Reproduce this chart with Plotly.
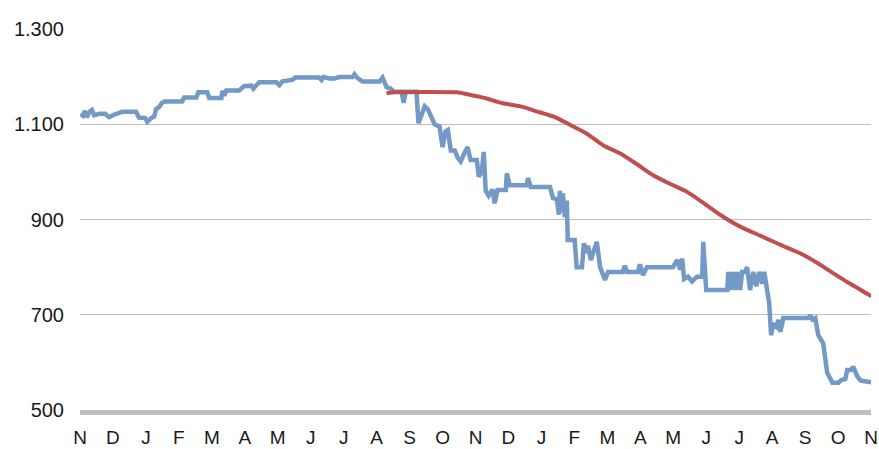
import plotly.graph_objects as go

# x positions in months since the first "N" tick (0..24)
month_labels = ["N", "D", "J", "F", "M", "A", "M", "J", "J", "A", "S", "O",
                "N", "D", "J", "F", "M", "A", "M", "J", "J", "A", "S", "O", "N"]

blue_x = [0.02, 0.09, 0.15, 0.21, 0.30, 0.36, 0.43, 0.58, 0.76, 0.88, 1.03, 1.28, 1.70, 1.79,
          1.98, 2.04, 2.16, 2.25, 2.31, 2.40, 2.49, 2.58, 3.10, 3.16, 3.53, 3.59, 3.86, 3.92,
          4.29, 4.32, 4.38, 4.44, 4.83, 4.98, 5.20, 5.26, 5.35, 5.44, 5.96, 6.05, 6.14, 6.44,
          6.53, 7.26, 7.33, 7.39, 7.57, 7.72, 7.87, 8.27, 8.33, 8.42, 8.57, 9.09, 9.18, 9.30,
          9.42, 9.54, 9.76, 9.82, 9.88, 10.21, 10.27, 10.36, 10.46, 10.55, 10.64, 10.76, 10.91,
          11.00, 11.09, 11.16, 11.25, 11.37, 11.46, 11.55, 11.67, 11.76, 11.85, 12.04, 12.10,
          12.19, 12.25, 12.31, 12.40, 12.52, 12.58, 12.67, 12.92, 12.95, 13.04, 13.56, 13.59,
          13.68, 14.26, 14.35, 14.47, 14.53, 14.56, 14.62, 14.65, 14.71, 14.77, 14.80, 15.01,
          15.07, 15.23, 15.29, 15.35, 15.41, 15.50, 15.59, 15.68, 15.78, 15.93, 16.02, 16.47,
          16.53, 16.60, 16.93, 16.99, 17.08, 17.20, 17.99, 18.12, 18.21, 18.27, 18.33, 18.45,
          18.57, 18.72, 18.88, 18.91, 19.00, 19.64, 19.67, 19.73, 19.79, 19.88, 19.94, 20.03,
          20.09, 20.18, 20.24, 20.33, 20.43, 20.52, 20.61, 20.70, 20.76, 20.85, 20.91, 20.97,
          21.03, 21.12, 21.19, 21.25, 21.34, 22.10, 22.16, 22.22, 22.31, 22.40, 22.49, 22.55,
          22.67, 22.77, 22.83, 23.01, 23.10, 23.22, 23.28, 23.40, 23.46, 23.59, 23.68, 23.86,
          24.01]
blue_y = [1122, 1118, 1128, 1115, 1127, 1130, 1119, 1122, 1122, 1115, 1120, 1126, 1126, 1114,
          1113, 1105, 1113, 1116, 1132, 1136, 1145, 1148, 1148, 1156, 1156, 1167, 1167, 1155,
          1155, 1170, 1160, 1171, 1171, 1180, 1181, 1175, 1182, 1188, 1188, 1182, 1190, 1193,
          1198, 1198, 1193, 1199, 1196, 1196, 1199, 1199, 1205, 1197, 1190, 1190, 1198, 1178,
          1175, 1168, 1168, 1145, 1168, 1168, 1102, 1120, 1138, 1132, 1120, 1100, 1095,
          1052, 1085, 1088, 1045, 1045, 1030, 1022, 1040, 1052, 1025, 1025, 990,
          1000, 1042, 960, 950, 963, 934, 962, 962, 997, 972, 972, 987,
          968, 968, 945, 943, 910, 960, 915, 955, 905, 940, 857, 857,
          800, 800, 850, 830, 845, 815, 835, 853, 800, 773, 790, 790,
          803, 790, 790, 806, 783, 800, 800, 815, 795, 818, 775, 780,
          770, 780, 780, 853, 752, 752, 790, 752, 790, 752, 790, 752,
          790, 790, 800, 752, 790, 760, 790, 765, 790, 745, 725, 657,
          680, 675, 689, 664, 693, 693, 699, 690, 693, 657, 645, 640,
          578, 565, 557, 557, 563, 565, 584, 584, 591, 570, 562, 560,
          558]

red_x = [9.30, 9.54, 11.43, 11.82, 12.28, 12.83, 13.34, 13.86, 14.41, 14.86, 15.38, 15.87,
         16.38, 16.90, 17.39, 17.90, 18.42, 18.91, 19.42, 20.03, 20.64, 21.25, 21.85, 22.46,
         22.86, 23.37, 24.01]
red_y = [1165, 1167, 1167, 1162, 1155, 1144, 1138, 1127, 1115, 1099, 1080, 1056,
         1039, 1016, 993, 975, 958, 935, 910, 885, 866, 847, 829, 805,
         787, 765, 739]

y_ticks = [500, 700, 900, 1100, 1300]

fig = go.Figure()
fig.add_trace(go.Scatter(x=blue_x, y=blue_y, mode="lines",
                         line=dict(color="#7399c6", width=4.5), showlegend=False))
fig.add_trace(go.Scatter(x=red_x, y=red_y, mode="lines",
                         line=dict(color="#c0504d", width=4, shape="spline", smoothing=0.6),
                         showlegend=False))

fig.update_layout(
    width=879, height=449,
    margin=dict(l=80, r=8, t=29, b=39),
    paper_bgcolor="white", plot_bgcolor="white",
    separators=",.",
    font=dict(family="Liberation Sans, Arial, sans-serif", size=19, color="#1a1a1a"),
    xaxis=dict(range=[0, 24.0], tickvals=list(range(len(month_labels))), ticktext=month_labels,
               showgrid=False, zeroline=False, showline=True, linecolor="#bfbfbf", linewidth=5,
               ticks="", ticklabelstandoff=6, automargin=False, tickangle=0,
               tickfont=dict(size=19)),
    yaxis=dict(range=[500, 1300], tickvals=y_ticks, tickformat=",d",
               showgrid=True, gridcolor="#bfbfbf", gridwidth=1, zeroline=False,
               showline=False, ticks="", ticklabelstandoff=15, automargin=False,
               tickfont=dict(size=20)),
)

fig.write_html("out.html")
